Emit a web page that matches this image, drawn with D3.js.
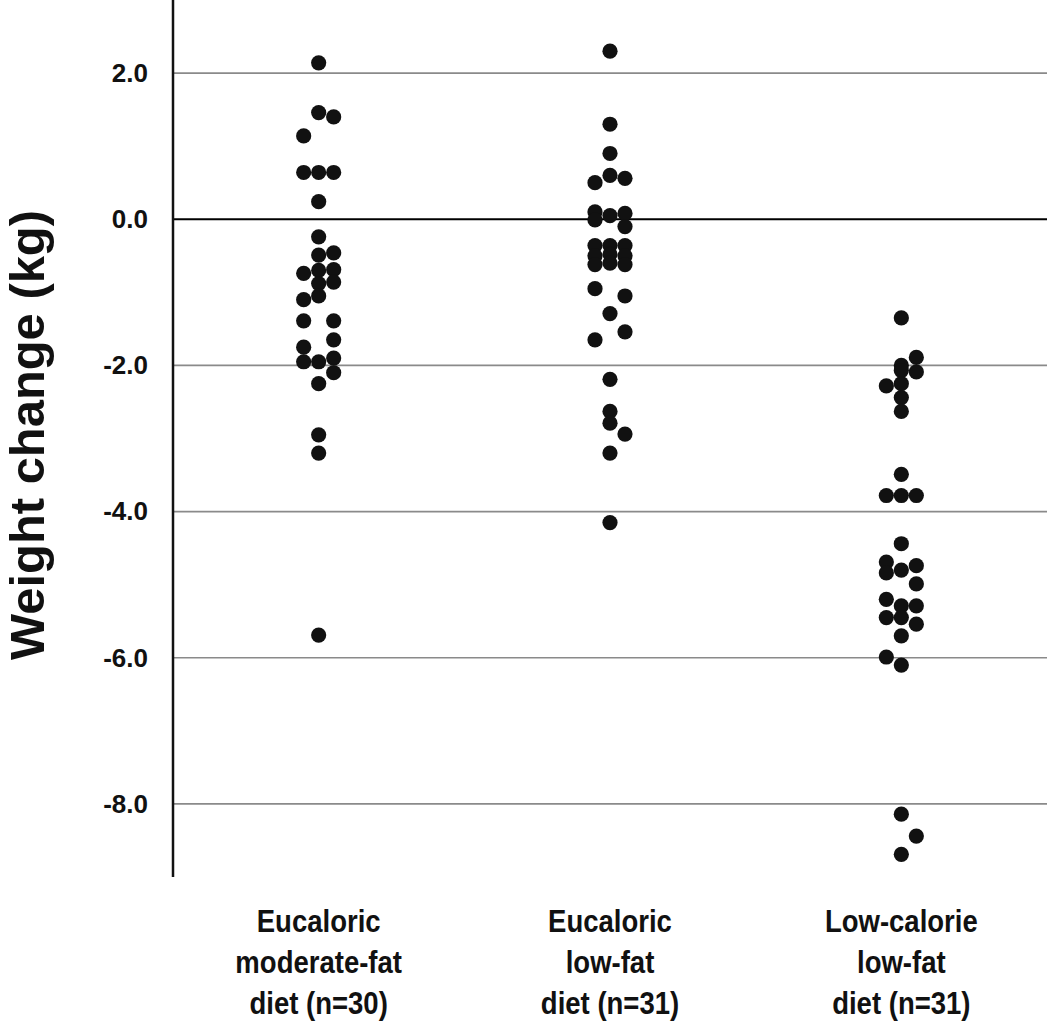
<!DOCTYPE html>
<html>
<head>
<meta charset="utf-8">
<script src="https://cdn.jsdelivr.net/npm/d3@7"></script>
<style>
  body { margin: 0; background: #fff; }
  svg { display: block; }
</style>
</head>
<body>
<svg id="chart" width="1050" height="1026"></svg>
<script>
// ---- data ----
const categories = ["g1", "g2", "g3"];
const categoryLabels = [
  ["Eucaloric", "moderate-fat", "diet (n=30)"],
  ["Eucaloric", "low-fat", "diet (n=31)"],
  ["Low-calorie", "low-fat", "diet (n=31)"]
];
const yTicks = [2, 0, -2, -4, -6, -8];
const yTickLabels = ["2.0", "0.0", "-2.0", "-4.0", "-6.0", "-8.0"];
const yTitle = "Weight change (kg)";

const g1Values = [2.14, 1.46, 1.40, 1.14, 0.64, 0.64, 0.64, 0.24, -0.24, -0.49, -0.46, -0.74, -0.70, -0.69,
  -0.86, -0.88, -1.05, -1.10, -1.39, -1.39, -1.65, -1.75, -1.95, -1.95, -1.90, -2.10, -2.25, -2.95, -3.20, -5.69];
const g1Lanes = ["C", "C", "R", "L", "L", "C", "R", "C", "C", "C", "R", "L", "C", "R",
  "R", "C", "C", "L", "L", "R", "R", "L", "L", "C", "R", "R", "C", "C", "C", "C"];

const g2Values = [2.30, 1.30, 0.90, 0.60, 0.50, 0.56, 0.10, 0.05, 0.08, -0.01, -0.10,
  -0.36, -0.36, -0.36, -0.50, -0.48, -0.50, -0.62, -0.60, -0.62,
  -0.95, -1.05, -1.29, -1.54, -1.65, -2.19, -2.63, -2.79, -2.94, -3.20, -4.15];
const g2Lanes = ["C", "C", "C", "C", "L", "R", "L", "C", "R", "L", "R",
  "L", "C", "R", "L", "C", "R", "L", "C", "R",
  "L", "R", "C", "R", "L", "C", "C", "C", "R", "C", "C"];

const g3Values = [-1.35, -1.89, -2.00, -2.07, -2.09, -2.28, -2.25, -2.44, -2.63, -3.49, -3.78, -3.78, -3.78,
  -4.44, -4.69, -4.84, -4.80, -4.74, -4.99, -5.20, -5.29, -5.29, -5.45, -5.45, -5.54, -5.70, -5.99, -6.10,
  -8.14, -8.44, -8.69];
const g3Lanes = ["C", "R", "C", "C", "R", "L", "C", "C", "C", "C", "L", "C", "R",
  "C", "L", "L", "C", "R", "R", "L", "C", "R", "L", "C", "R", "C", "L", "C",
  "C", "R", "C"];

const seriesValues = [g1Values, g2Values, g3Values];
const seriesLanes = [g1Lanes, g2Lanes, g3Lanes];

// ---- layout ----
const svg = d3.select("#chart");
const plot = { left: 173, right: 1047, top: 0, bottom: 877 };

const y = d3.scaleLinear().domain([-9, 3]).range([plot.bottom, plot.top]);
const x = d3.scaleBand().domain(categories).range([plot.left, plot.right]).padding(0);
const lane = d3.scalePoint().domain(["L", "C", "R"]).range([-15, 15]);

// gridlines
svg.append("g")
  .selectAll("line")
  .data(yTicks)
  .join("line")
  .attr("x1", plot.left)
  .attr("x2", plot.right)
  .attr("y1", d => y(d))
  .attr("y2", d => y(d))
  .attr("stroke", d => d === 0 ? "#000" : "#8a8a8a")
  .attr("stroke-width", d => d === 0 ? 2 : 1.6);

// y axis
const yAxis = d3.axisLeft(y)
  .tickValues(yTicks)
  .tickSize(0)
  .tickPadding(25)
  .tickFormat((d, i) => yTickLabels[i]);

const yg = svg.append("g")
  .attr("transform", `translate(${plot.left},0)`)
  .call(yAxis);
yg.select(".domain").remove();
yg.selectAll("text")
  .attr("font-family", "'Liberation Sans', Arial, sans-serif")
  .attr("font-weight", "bold")
  .attr("font-size", 26)
  .attr("fill", "#111");

svg.append("line")
  .attr("x1", plot.left).attr("x2", plot.left)
  .attr("y1", plot.top).attr("y2", plot.bottom)
  .attr("stroke", "#111").attr("stroke-width", 2.5);

// y title
svg.append("text")
  .attr("transform", `translate(44, ${(210 + 660) / 2}) rotate(-90)`)
  .attr("text-anchor", "middle")
  .attr("font-family", "'Liberation Sans', Arial, sans-serif")
  .attr("font-weight", "bold")
  .attr("font-size", 48)
  .attr("textLength", 450)
  .attr("lengthAdjust", "spacingAndGlyphs")
  .attr("fill", "#111")
  .text(yTitle);

// dots
categories.forEach((c, ci) => {
  const pts = seriesValues[ci].map((v, i) => ({ v, lane: seriesLanes[ci][i] }));
  svg.append("g")
    .selectAll("circle")
    .data(pts)
    .join("circle")
    .attr("cx", d => x(c) + x.bandwidth() / 2 + lane(d.lane))
    .attr("cy", d => y(d.v))
    .attr("r", 7.6)
    .attr("fill", "#111");
});

// category labels (condensed look)
const labelG = svg.append("g");
categories.forEach((c, ci) => {
  const cx = x(c) + x.bandwidth() / 2;
  const t = labelG.append("text")
    .attr("transform", `translate(${cx},932) scale(0.86,1)`)
    .attr("text-anchor", "middle")
    .attr("font-family", "'Liberation Sans', Arial, sans-serif")
    .attr("font-weight", "bold")
    .attr("font-size", 32)
    .attr("fill", "#111");
  categoryLabels[ci].forEach((line, li) => {
    t.append("tspan")
      .attr("x", 0)
      .attr("dy", li === 0 ? 0 : 41)
      .text(line);
  });
});
</script>
</body>
</html>
